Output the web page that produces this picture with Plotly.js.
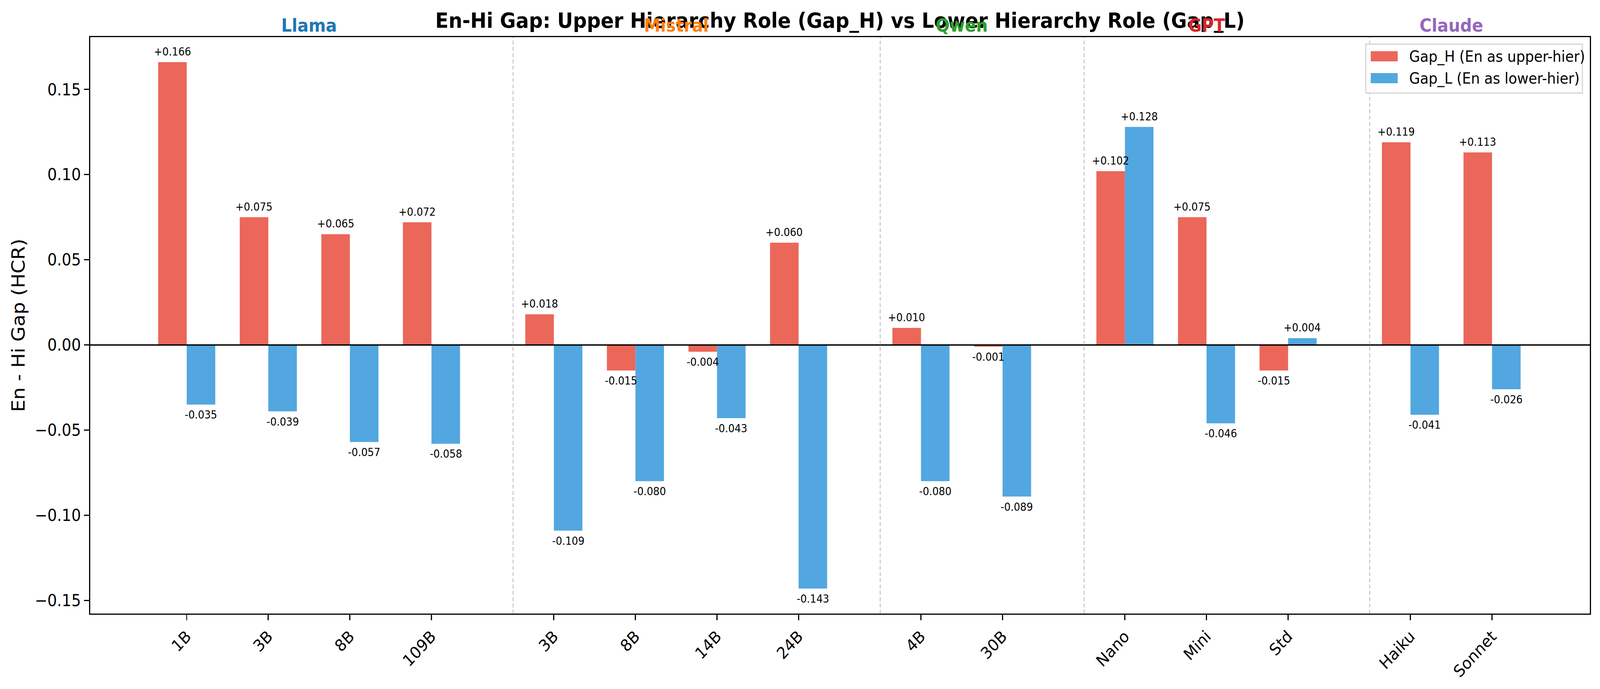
<!DOCTYPE html>
<html>
<head>
<meta charset="utf-8">
<script src="https://cdn.plot.ly/plotly-3.0.1.min.js"></script>
<style>
html,body{margin:0;padding:0;background:#fff;overflow:hidden;}
#chart{position:absolute;left:0;top:0;width:4460px;height:1763px;transform-origin:0 0;}
</style>
</head>
<body>
<div id="chart"></div>
<script>
// ---- data ----
const groupNames = ['Llama', 'Mistral', 'Qwen', 'GPT', 'Claude'];
const groupColors = ['#1f77b4', '#ff7f0e', '#2ca02c', '#d62728', '#9467bd'];
const modelLabels = ['1B', '3B', '8B', '109B', '3B', '8B', '14B', '24B', '4B', '30B', 'Nano', 'Mini', 'Std', 'Haiku', 'Sonnet'];
const modelGroup = ['Llama', 'Llama', 'Llama', 'Llama', 'Mistral', 'Mistral', 'Mistral', 'Mistral', 'Qwen', 'Qwen', 'GPT', 'GPT', 'GPT', 'Claude', 'Claude'];
const gapH = [0.166, 0.075, 0.065, 0.072, 0.018, -0.015, -0.004, 0.060, 0.010, -0.001, 0.102, 0.075, -0.015, 0.119, 0.113];
const gapL = [-0.035, -0.039, -0.057, -0.058, -0.109, -0.080, -0.043, -0.143, -0.080, -0.089, 0.128, -0.046, 0.004, -0.041, -0.026];
const seriesNames = ['Gap_H (En as upper-hier)', 'Gap_L (En as lower-hier)'];

// ---- fit the 4460 x 1763 design to the real viewport ----
const DW = 4460, DH = 1763;
const W = window.innerWidth || DW;
const H = window.innerHeight || DH;
document.getElementById('chart').style.transform = 'scale(' + (W / DW) + ',' + (H / DH) + ')';

// ---- positions: groups separated by an extra half slot ----
const barW = 0.35;
const pos = [];
const groupStart = {}, groupEnd = {};
let p = 0;
modelGroup.forEach((g, i) => {
  if (i > 0 && g !== modelGroup[i - 1]) p += 0.5;
  pos.push(p);
  if (!(g in groupStart)) groupStart[g] = p;
  groupEnd[g] = p;
  p += 1;
});

const red = 'rgb(235,103,89)';
const blue = 'rgb(82,167,224)';
const colors = [red, blue];

const traces = [
  {type: 'bar', name: seriesNames[0], x: pos, y: gapH, width: barW, offset: -barW,
   marker: {color: red, line: {width: 0}}, hoverinfo: 'y', showlegend: false},
  {type: 'bar', name: seriesNames[1], x: pos, y: gapL, width: barW, offset: 0,
   marker: {color: blue, line: {width: 0}}, hoverinfo: 'y', showlegend: false}
];

const fmt = v => (v >= 0 ? '+' : '-') + Math.abs(v).toFixed(3);
const annotations = [];
function addLabels(vals, dx) {
  vals.forEach((v, i) => {
    annotations.push({
      x: pos[i] + dx, y: v, xref: 'x', yref: 'y', text: fmt(v), showarrow: false,
      xanchor: 'center', yanchor: v >= 0 ? 'bottom' : 'top', yshift: v >= 0 ? 8 : -8,
      font: {family: 'DejaVu Sans', size: 28, color: '#000'}
    });
  });
}
addLabels(gapH, -barW / 2);
addLabels(gapL, barW / 2);

groupNames.forEach((g, k) => {
  annotations.push({
    x: (groupStart[g] + groupEnd[g]) / 2, y: 1.0205, xref: 'x', yref: 'paper', text: '<b>' + g + '</b>',
    showarrow: false, xanchor: 'center', yanchor: 'middle',
    font: {family: 'DejaVu Sans', size: 46, color: groupColors[k]}
  });
});

// plot-area geometry in design pixels, used for the drawn legend box
const PL = 251, PR = 4432, PT = 95, PB = 1570;
const fx = v => (v - PL) / (PR - PL);
const fy = v => (PB - v) / (PB - PT);

const shapes = [
  {type: 'line', xref: 'paper', yref: 'y', x0: 0, x1: 1, y0: 0, y1: 0, layer: 'above',
   line: {color: '#000', width: 3.5}}
];
groupNames.slice(1).forEach(g => {
  const xs = groupStart[g] - 0.5;
  shapes.push({type: 'line', xref: 'x', yref: 'paper', x0: xs, x1: xs, y0: 0, y1: 1, layer: 'above',
    line: {color: 'rgba(150,150,150,0.6)', width: 2.5, dash: '10px,6px'}});
});

// legend (box, patches, labels)
shapes.push({type: 'rect', xref: 'paper', yref: 'paper', x0: fx(3807), x1: fx(4411), y0: fy(238), y1: fy(113),
  layer: 'above', fillcolor: 'rgba(255,255,255,0.8)', line: {color: '#d4d4d4', width: 3}});
const legY = [144, 200];
seriesNames.forEach((nm, k) => {
  shapes.push({type: 'rect', xref: 'paper', yref: 'paper', x0: fx(3821), x1: fx(3896),
    y0: fy(legY[k] + 13), y1: fy(legY[k] - 13), layer: 'above', fillcolor: colors[k], line: {width: 0}});
  annotations.push({x: fx(3926), y: fy(legY[k]), xref: 'paper', yref: 'paper', text: nm, showarrow: false,
    xanchor: 'left', yanchor: 'middle', font: {family: 'DejaVu Sans', size: 39, color: '#000'}});
});

const layout = {
  width: DW, height: DH,
  margin: {l: PL, r: DW - PR, t: PT, b: DH - PB, pad: 0},
  paper_bgcolor: '#fff', plot_bgcolor: '#fff',
  font: {family: 'DejaVu Sans', color: '#000'},
  barmode: 'overlay',
  showlegend: false,
  title: {text: '<b>En-Hi Gap: Upper Hierarchy Role (Gap_H) vs Lower Hierarchy Role (Gap_L)</b>',
    font: {family: 'DejaVu Sans', size: 54, color: '#000'},
    x: 0.5, xref: 'paper', xanchor: 'center', y: 1 - 52 / DH, yref: 'container', yanchor: 'middle'},
  xaxis: {
    range: [-1.185, 17.2], showgrid: false, zeroline: false,
    tickmode: 'array', tickvals: pos, ticktext: modelLabels, tickangle: -45,
    ticks: 'outside', ticklen: 14, tickwidth: 3, tickcolor: '#000',
    tickfont: {family: 'DejaVu Sans', size: 42, color: '#000'},
    showline: true, linecolor: '#000', linewidth: 3, mirror: true
  },
  yaxis: {
    range: [-0.1577, 0.1807], showgrid: false, zeroline: false,
    tickmode: 'array', tickvals: [-0.15, -0.10, -0.05, 0, 0.05, 0.10, 0.15], tickformat: '.2f',
    ticks: 'outside', ticklen: 14, tickwidth: 3, tickcolor: '#000',
    tickfont: {family: 'DejaVu Sans', size: 42, color: '#000'},
    showline: true, linecolor: '#000', linewidth: 3, mirror: true,
    title: {text: 'En - Hi Gap (HCR)', font: {family: 'DejaVu Sans', size: 50, color: '#000'}, standoff: 12}
  },
  annotations: annotations,
  shapes: shapes
};

Plotly.newPlot('chart', traces, layout, {staticPlot: true, displayModeBar: false});
</script>
</body>
</html>
